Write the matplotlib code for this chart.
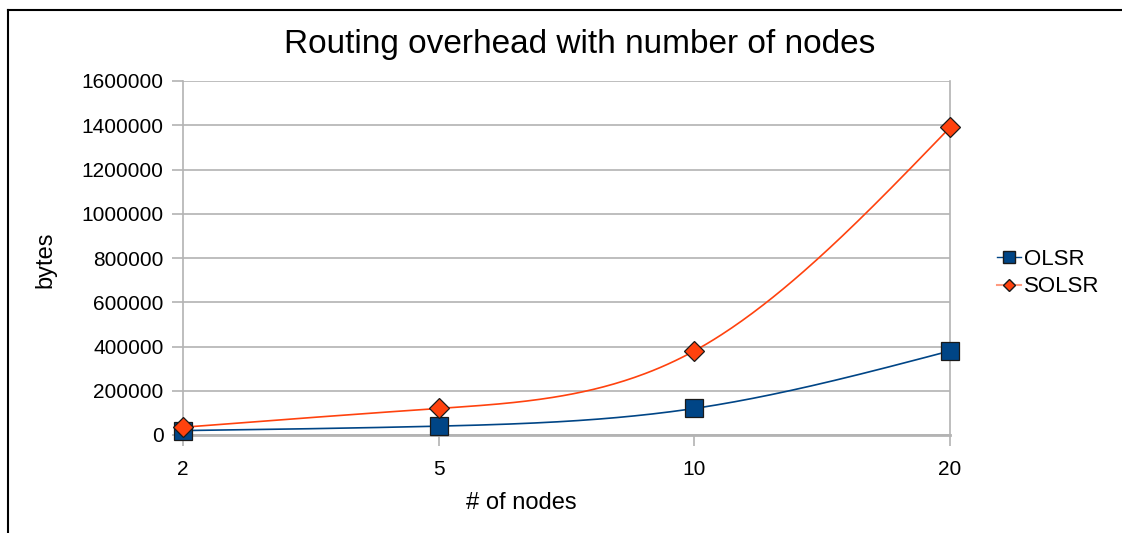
import numpy as np
import matplotlib.pyplot as plt
from matplotlib.lines import Line2D
from matplotlib.ticker import FuncFormatter

plt.rcParams['font.family'] = ['Liberation Sans', 'DejaVu Sans']

# Данные: число узлов и накладные расходы маршрутизации (байты)
nodes = ['2', '5', '10', '20']
olsr = [20000, 40000, 120000, 380000]
solsr = [35000, 120000, 380000, 1390000]

OLSR_COLOR = '#004586'
SOLSR_COLOR = '#ff420e'


# Натуральный кубический сплайн для сглаженной линии
def natural_spline(x, y, n=300):
    x = np.asarray(x, float)
    y = np.asarray(y, float)
    k = len(x)
    h = np.diff(x)
    A = np.zeros((k, k))
    r = np.zeros(k)
    A[0, 0] = A[-1, -1] = 1
    for i in range(1, k - 1):
        A[i, i - 1] = h[i - 1]
        A[i, i] = 2 * (h[i - 1] + h[i])
        A[i, i + 1] = h[i]
        r[i] = 3 * ((y[i + 1] - y[i]) / h[i] - (y[i] - y[i - 1]) / h[i - 1])
    c = np.linalg.solve(A, r)
    xs = np.linspace(x[0], x[-1], n)
    ys = np.empty_like(xs)
    for j, xv in enumerate(xs):
        i = min(np.searchsorted(x, xv, side='right') - 1, k - 2)
        t = xv - x[i]
        b = (y[i + 1] - y[i]) / h[i] - h[i] * (2 * c[i] + c[i + 1]) / 3
        d = (c[i + 1] - c[i]) / (3 * h[i])
        ys[j] = y[i] + b * t + c[i] * t**2 + d * t**3
    return xs, ys


fig = plt.figure(figsize=(11.22, 5.33), dpi=100)
ax = fig.add_axes([183 / 1122, 1 - 435 / 533, (950 - 183) / 1122, (435 - 81) / 533])

x = np.arange(len(nodes))
for vals, color, marker, ms in [(olsr, OLSR_COLOR, 's', 13), (solsr, SOLSR_COLOR, 'D', 10)]:
    xs, ys = natural_spline(x, vals)
    ax.plot(xs, ys, color=color, lw=1.2, zorder=3)
    ax.plot(x, vals, linestyle='none', marker=marker, ms=ms, mfc=color,
            mec='#1a1a1a', mew=0.9, zorder=4, clip_on=False)

ax.set_xlim(0, len(nodes) - 1)
ax.set_ylim(0, 1600000)
ax.set_xticks(x)
ax.set_xticklabels(nodes)
ax.set_yticks(np.arange(0, 1600001, 200000))
ax.yaxis.set_major_formatter(FuncFormatter(lambda v, p: f'{int(v)}'))
ax.yaxis.grid(True, color='#b3b3b3', lw=1.2)
ax.set_axisbelow(True)
for s in ['left', 'right']:
    ax.spines[s].set_color('#b3b3b3')
    ax.spines[s].set_linewidth(1.2)
ax.spines['top'].set_visible(False)
ax.spines['bottom'].set_color('#b3b3b3')
ax.spines['bottom'].set_linewidth(2)
ax.tick_params(axis='both', colors='#b3b3b3', labelcolor='black', labelsize=15,
               length=8, width=1.2)
ax.tick_params(axis='y', pad=6)
ax.tick_params(axis='x', pad=10)

fig.text(580 / 1122, 1 - 45 / 533, 'Routing overhead with number of nodes',
         ha='center', va='center', fontsize=24)
fig.text(45 / 1122, 1 - 260 / 533, 'bytes', rotation=90,
         ha='center', va='center', fontsize=17)
fig.text(521 / 1122, 1 - 503 / 533, '# of nodes', ha='center', va='center', fontsize=17)

handles = [
    Line2D([], [], color=OLSR_COLOR, marker='s', ms=9, mfc=OLSR_COLOR, mec='#1a1a1a', lw=1),
    Line2D([], [], color='#ff9b80', marker='D', ms=6.5, mfc=SOLSR_COLOR, mec='#1a1a1a', lw=1.5),
]
fig.legend(handles, ['OLSR', 'SOLSR'], loc='center left',
           bbox_to_anchor=(977 / 1122, 1 - 273 / 533), frameon=False,
           fontsize=16, handlelength=1.1, handletextpad=0.1, labelspacing=0.3)

# Рамка рисунка: сверху и слева
fig.add_artist(Line2D([8 / 1122, 1], [1 - 10 / 533] * 2, color='black', lw=1.5))
fig.add_artist(Line2D([8 / 1122] * 2, [0, 1 - 10 / 533], color='black', lw=1.5))

fig.savefig('out.png', dpi=100)
